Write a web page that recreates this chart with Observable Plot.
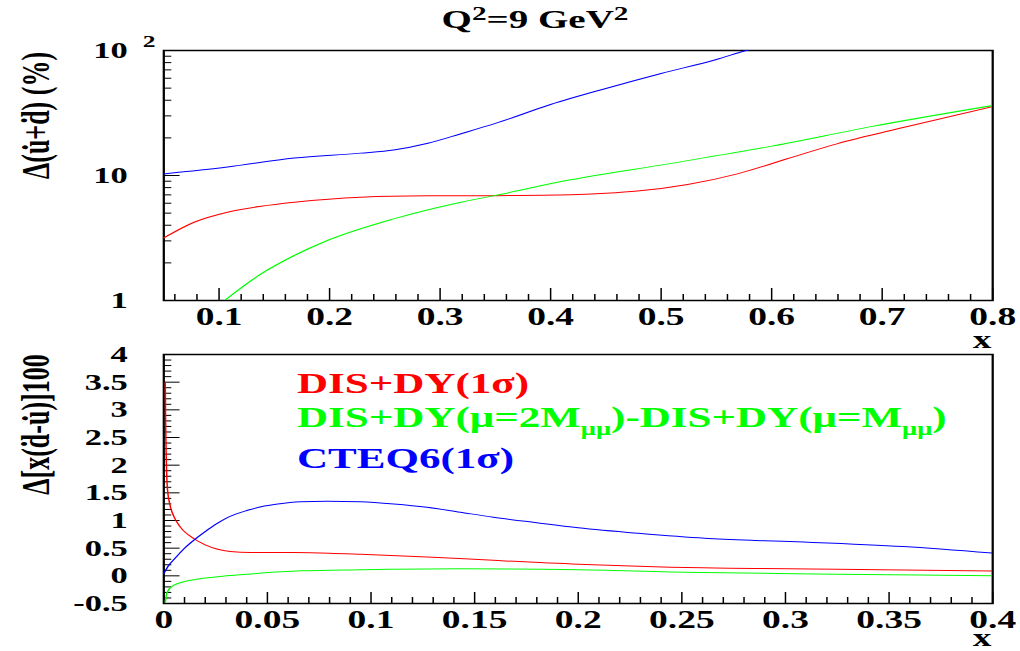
<!DOCTYPE html>
<html>
<head>
<meta charset="utf-8">
<script src="https://cdn.jsdelivr.net/npm/d3@7"></script>
<script src="https://cdn.jsdelivr.net/npm/@observablehq/plot@0.6"></script>
<style>
  html, body { margin: 0; padding: 0; background: #fff; }
  #wrap {
    position: relative; width: 680px; height: 651px;
    transform: scaleX(1.5); transform-origin: 0 0;
    font-family: "Liberation Serif", "Times New Roman", serif; font-weight: bold;
  }
  #wrap svg { display: block; }
  .title { position: absolute; left: 0; width: 713.4px; top: 7px; text-align: center; font-size: 26px; line-height: 26px; }
  .title .sup { font-size: 0.75em; position: relative; top: -0.42em; }
  .leg { position: absolute; left: 198px; font-size: 28.7px; line-height: 29px; white-space: nowrap; }
  .leg .sub { font-size: 0.62em; position: relative; top: 0.45em; }
</style>
</head>
<body>
<div id="wrap">
  <div class="title">Q<span class="sup">2</span>=9 GeV<span class="sup">2</span></div>
  <div class="leg" style="top:369px;color:#ff0000">DIS+DY(1σ)</div>
  <div class="leg" style="top:403px;color:#00ff00">DIS+DY(μ=2M<span class="sub">μμ</span>)-DIS+DY(μ=M<span class="sub">μμ</span>)</div>
  <div class="leg" style="top:444px;color:#0000ff">CTEQ6(1σ)</div>
</div>
<script>
// ---------- Upper panel data: Δ(u+d) (%) vs x (log y) ----------
const upperRedX   = [0.05, 0.0774, 0.1076, 0.138, 0.168, 0.228, 0.289, 0.349, 0.418, 0.45, 0.4786, 0.524, 0.569, 0.614, 0.659, 0.72, 0.8];
const upperRedY   = [3.17, 4.23, 5.09, 5.68, 6.12, 6.71, 6.88, 6.9, 7.0, 7.2, 7.5, 8.47, 10.3, 13.6, 17.9, 24.3, 35.6];
const upperGreenX = [0.105, 0.138, 0.168, 0.198, 0.258, 0.319, 0.349, 0.418, 0.509, 0.599, 0.69, 0.8];
const upperGreenY = [1.0, 1.63, 2.29, 3.02, 4.5, 6.12, 6.9, 9.23, 12.5, 17.1, 24.6, 36.3];
const upperBlueX  = [0.05, 0.1076, 0.168, 0.228, 0.258, 0.289, 0.319, 0.35, 0.4, 0.45, 0.5, 0.55, 0.577, 0.59];
const upperBlueY  = [10.3, 11.7, 13.8, 15.1, 16.0, 18.1, 21.6, 26.1, 37.0, 49.7, 65.5, 84.7, 100, 107];

// ---------- Lower panel data: Δ[x(d-u)]100 vs x ----------
const lowerRedX   = [0.0007, 0.0009, 0.0012, 0.0018, 0.003, 0.005, 0.008, 0.0146, 0.02, 0.026, 0.032, 0.042, 0.063, 0.08, 0.095, 0.127, 0.159, 0.2, 0.26, 0.325, 0.4];
const lowerRedY   = [3.5, 2.7, 2.1, 1.55, 1.28, 1.06, 0.88, 0.67, 0.56, 0.48, 0.44, 0.42, 0.42, 0.41, 0.39, 0.34, 0.28, 0.21, 0.145, 0.12, 0.085];
const lowerGreenX = [0.0007, 0.0012, 0.002, 0.005, 0.0146, 0.018, 0.03, 0.042, 0.066, 0.095, 0.143, 0.2, 0.26, 0.325, 0.4];
const lowerGreenY = [-0.48, -0.36, -0.27, -0.17, -0.07, -0.05, 0.0, 0.035, 0.09, 0.11, 0.127, 0.11, 0.06, 0.03, 0.0];
const lowerBlueX  = [0, 0.002, 0.005, 0.01, 0.015, 0.02, 0.025, 0.03, 0.035, 0.04, 0.047, 0.055, 0.066, 0.079, 0.095, 0.111, 0.127, 0.143, 0.159, 0.18, 0.2, 0.229, 0.261, 0.29, 0.309, 0.357, 0.4];
const lowerBlueY  = [0.04, 0.17, 0.3, 0.5, 0.66, 0.8, 0.93, 1.04, 1.12, 1.18, 1.25, 1.30, 1.34, 1.35, 1.34, 1.30, 1.24, 1.15, 1.06, 0.96, 0.87, 0.77, 0.68, 0.635, 0.61, 0.53, 0.41];

// ---------- Ticks and labels ----------
const upperXTicks     = [0.1, 0.2, 0.3, 0.4, 0.5, 0.6, 0.7, 0.8];
const upperXTickText  = ["0.1", "0.2", "0.3", "0.4", "0.5", "0.6", "0.7", "0.8"];
const upperXMinor     = [0.06, 0.08, 0.12, 0.14, 0.16, 0.18, 0.22, 0.24, 0.26, 0.28, 0.32, 0.34, 0.36, 0.38, 0.42, 0.44, 0.46, 0.48, 0.52, 0.54, 0.56, 0.58, 0.62, 0.64, 0.66, 0.68, 0.72, 0.74, 0.76, 0.78];
const upperYTicks     = [1, 10, 100];
const upperYTickText  = ["1", "10", "10"];
const upperYExponent  = "2";
const upperYMinor     = [2, 3, 4, 5, 6, 7, 8, 9, 20, 30, 40, 50, 60, 70, 80, 90];
const lowerXTicks     = [0, 0.05, 0.1, 0.15, 0.2, 0.25, 0.3, 0.35, 0.4];
const lowerXTickText  = ["0", "0.05", "0.1", "0.15", "0.2", "0.25", "0.3", "0.35", "0.4"];
const lowerXMinor     = [0.01, 0.02, 0.03, 0.04, 0.06, 0.07, 0.08, 0.09, 0.11, 0.12, 0.13, 0.14, 0.16, 0.17, 0.18, 0.19, 0.21, 0.22, 0.23, 0.24, 0.26, 0.27, 0.28, 0.29, 0.31, 0.32, 0.33, 0.34, 0.36, 0.37, 0.38, 0.39];
const lowerYTicks     = [-0.5, 0, 0.5, 1, 1.5, 2, 2.5, 3, 3.5, 4];
const lowerYTickText  = ["-0.5", "0", "0.5", "1", "1.5", "2", "2.5", "3", "3.5", "4"];
const lowerYMinor     = [-0.4, -0.3, -0.2, -0.1, 0.1, 0.2, 0.3, 0.4, 0.6, 0.7, 0.8, 0.9, 1.1, 1.2, 1.3, 1.4, 1.6, 1.7, 1.8, 1.9, 2.1, 2.2, 2.3, 2.4, 2.6, 2.7, 2.8, 2.9, 3.1, 3.2, 3.3, 3.4, 3.6, 3.7, 3.8, 3.9];
const upperYTitle = "Δ(u̇+ḋ) (%)";
const lowerYTitle = "Δ[x(ḋ-u̇)]100";
const xTitle = "x";
const colors = { red: "#ff0000", green: "#00ff00", blue: "#0000ff" };

// ---------- Layout ----------
const W = 680, ML = 108.7, MR = 18.7;
const FW = W - ML - MR;
const H1 = 345, MT1 = 50, MB1 = 45, FH1 = H1 - MT1 - MB1;
const H2 = 306, MT2 = 9, MB2 = 48, FH2 = H2 - MT2 - MB2;
const font = "'Liberation Serif', 'Times New Roman', serif";

const ser = (xs, ys) => xs.map((x, i) => ({ x, y: ys[i] }));
const lbl = (vals, texts) => d => texts[vals.indexOf(d)];
const titleOpts = { frameAnchor: "top-left", rotate: -90, textAnchor: "middle", lineAnchor: "middle", fontSize: 26, fontWeight: "bold" };
const xTitleOpts = { frameAnchor: "bottom-right", textAnchor: "middle", lineAnchor: "middle", dx: -7, fontSize: 25, fontWeight: "bold" };

const p1 = Plot.plot({
  width: W, height: H1, marginLeft: ML, marginRight: MR, marginTop: MT1, marginBottom: MB1,
  style: { fontFamily: font, fontWeight: "bold", background: "transparent", overflow: "visible" },
  x: { domain: [0.05, 0.8] },
  y: { type: "log", domain: [1, 100] },
  marks: [
    Plot.frame({ stroke: "black", strokeWidth: 1.5 }),
    Plot.tickX(upperXTicks, { x: d => d, insetTop: FH1 - 12, stroke: "black", strokeWidth: 1 }),
    Plot.tickX(upperXMinor, { x: d => d, insetTop: FH1 - 6, stroke: "black", strokeWidth: 1 }),
    Plot.tickY(upperYTicks, { y: d => d, insetRight: FW - 11, stroke: "black", strokeWidth: 1 }),
    Plot.tickY(upperYMinor, { y: d => d, insetRight: FW - 5.5, stroke: "black", strokeWidth: 1 }),
    Plot.line(ser(upperRedX, upperRedY), { x: "x", y: "y", stroke: colors.red, strokeWidth: 1, curve: "monotone-x", clip: true }),
    Plot.line(ser(upperGreenX, upperGreenY), { x: "x", y: "y", stroke: colors.green, strokeWidth: 1, curve: "monotone-x", clip: true }),
    Plot.line(ser(upperBlueX, upperBlueY), { x: "x", y: "y", stroke: colors.blue, strokeWidth: 1, curve: "monotone-x", clip: true }),
    Plot.axisX(upperXTicks, { tickSize: 0, tickPadding: 7, fontSize: 25, fontWeight: "bold", tickFormat: lbl(upperXTicks, upperXTickText), label: null }),
    Plot.axisY(upperYTicks, { tickSize: 0, tickPadding: 24, fontSize: 23, fontWeight: "bold", tickFormat: lbl(upperYTicks, upperYTickText), label: null }),
    Plot.text([upperYTicks[2]], { y: d => d, frameAnchor: "left", text: () => upperYExponent, dx: -14, dy: -9, textAnchor: "start", fontSize: 17, fontWeight: "bold" }),
    Plot.text([upperYTitle], { ...titleOpts, dx: -85, dy: 65 }),
    Plot.text([xTitle], { ...xTitleOpts, dy: 39 })
  ]
});

const p2 = Plot.plot({
  width: W, height: H2, marginLeft: ML, marginRight: MR, marginTop: MT2, marginBottom: MB2,
  style: { fontFamily: font, fontWeight: "bold", background: "transparent", overflow: "visible" },
  x: { domain: [0, 0.4] },
  y: { domain: [-0.5, 4] },
  marks: [
    Plot.frame({ stroke: "black", strokeWidth: 1.5 }),
    Plot.tickX(lowerXTicks, { x: d => d, insetTop: FH2 - 11, stroke: "black", strokeWidth: 1 }),
    Plot.tickX(lowerXMinor, { x: d => d, insetTop: FH2 - 6, stroke: "black", strokeWidth: 1 }),
    Plot.tickY(lowerYTicks, { y: d => d, insetRight: FW - 11, stroke: "black", strokeWidth: 1 }),
    Plot.tickY(lowerYMinor, { y: d => d, insetRight: FW - 5.5, stroke: "black", strokeWidth: 1 }),
    Plot.line(ser(lowerRedX, lowerRedY), { x: "x", y: "y", stroke: colors.red, strokeWidth: 1, curve: "monotone-x", clip: true }),
    Plot.line(ser(lowerGreenX, lowerGreenY), { x: "x", y: "y", stroke: colors.green, strokeWidth: 1, curve: "monotone-x", clip: true }),
    Plot.line(ser(lowerBlueX, lowerBlueY), { x: "x", y: "y", stroke: colors.blue, strokeWidth: 1, curve: "monotone-x", clip: true }),
    Plot.axisX(lowerXTicks, { tickSize: 0, tickPadding: 7, fontSize: 25, fontWeight: "bold", tickFormat: lbl(lowerXTicks, lowerXTickText), label: null }),
    Plot.axisY(lowerYTicks, { tickSize: 0, tickPadding: 24, fontSize: 23, fontWeight: "bold", tickFormat: lbl(lowerYTicks, lowerYTickText), label: null }),
    Plot.text([lowerYTitle], { ...titleOpts, dx: -85, dy: 70 }),
    Plot.text([xTitle], { ...xTitleOpts, dy: 34 })
  ]
});

document.getElementById("wrap").append(p1, p2);
</script>
</body>
</html>
